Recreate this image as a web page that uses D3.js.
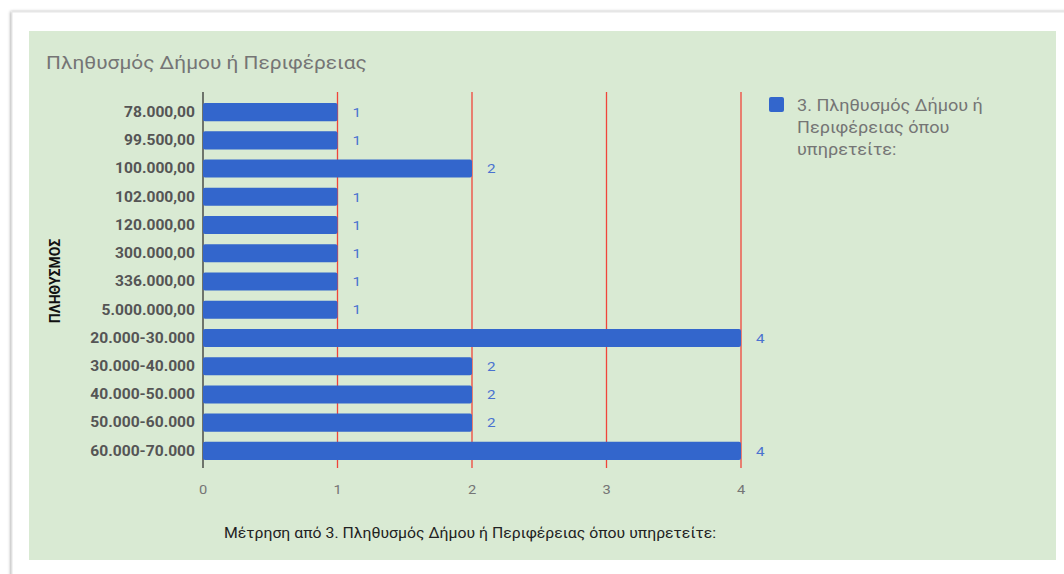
<!DOCTYPE html>
<html>
<head>
<meta charset="utf-8">
<script src="https://cdn.jsdelivr.net/npm/d3@7"></script>
<style>
html,body{margin:0;padding:0;background:#fff;}
svg{display:block;font-family:Roboto,"Noto Sans",Arial,sans-serif;}
</style>
</head>
<body>
<svg id="chart" width="1064" height="574"></svg>
<script>
const categories = ["78.000,00","99.500,00","100.000,00","102.000,00","120.000,00","300.000,00","336.000,00","5.000.000,00","20.000-30.000","30.000-40.000","40.000-50.000","50.000-60.000","60.000-70.000"];
const values = [1,1,2,1,1,1,1,1,4,2,2,2,4];
const xTicks = [0,1,2,3,4];
const chartTitle = "Πληθυσμός Δήμου ή Περιφέρειας";
const xTitle = "Μέτρηση από 3. Πληθυσμός Δήμου ή Περιφέρειας όπου υπηρετείτε:";
const yTitle = "ΠΛΗΘΥΣΜΟΣ";
const legendLines = ["3. Πληθυσμός Δήμου ή","Περιφέρειας όπου","υπηρετείτε:"];

const SX = 1.13; // horizontal text stretch seen in the reference
const svg = d3.select("#chart");
const defs = svg.append("defs");
const f = defs.append("filter").attr("id","sh").attr("x","-5%").attr("y","-5%").attr("width","110%").attr("height","110%");
f.append("feDropShadow").attr("dx",-1).attr("dy",0).attr("stdDeviation",1.5).attr("flood-color","#000").attr("flood-opacity",0.35);

function label(parent, px, py, txt){
  return parent.append("text").attr("transform",`translate(${px},${py}) scale(${SX},1)`).text(txt);
}

// card
svg.append("rect").attr("x",12).attr("y",12).attr("width",1070).attr("height",600)
  .attr("fill","#fff").attr("stroke","#e6e6e6").attr("filter","url(#sh)");
// panel
svg.append("rect").attr("x",29).attr("y",31).attr("width",1027).attr("height",529).attr("fill","#d9ead3");

label(svg,46,69,chartTitle).attr("font-size",18.5).attr("fill","#757575");

const x = d3.scaleLinear().domain([0,4]).range([203,741]);
const y = d3.scaleBand().domain(categories).range([98,465]).paddingInner(0.36).paddingOuter(0.18);

const g = svg.append("g");
// gridlines
g.selectAll("line.grid").data(xTicks.filter(d=>d>0)).join("line")
  .attr("x1",d=>x(d)).attr("x2",d=>x(d)).attr("y1",92).attr("y2",468)
  .attr("stroke","#f0443a").attr("stroke-width",1.3);
// baseline
g.append("line").attr("x1",x(0)).attr("x2",x(0)).attr("y1",92).attr("y2",468).attr("stroke","#333").attr("stroke-width",1.3);

// bars
g.selectAll("rect.bar").data(values).join("rect")
  .attr("x",x(0)).attr("y",(d,i)=>y(categories[i]))
  .attr("width",d=>x(d)-x(0)).attr("height",y.bandwidth())
  .attr("rx",2).attr("fill","#3366cc");

// value labels
values.forEach((d,i)=>{
  label(g, x(d)+15, y(categories[i])+y.bandwidth()/2, d)
    .attr("dy","0.35em").attr("font-size",13.5).attr("fill","#4a72d0");
});

// y labels
categories.forEach(c=>{
  label(g, 195, y(c)+y.bandwidth()/2, c)
    .attr("dy","0.35em").attr("text-anchor","end").attr("font-size",13.8)
    .attr("font-weight","bold").attr("fill","#555");
});

// x ticks
const xAxis = d3.axisBottom(x).tickValues(xTicks).tickFormat(d3.format("d")).tickSize(0).tickPadding(0);
const ax = svg.append("g").attr("transform","translate(0,489)").call(xAxis);
ax.select(".domain").remove();
ax.selectAll("text").attr("font-size",13).attr("fill","#757575").attr("font-family","Roboto,sans-serif")
  .attr("dy","0.35em").attr("y",0).attr("transform",`scale(${SX},1)`).attr("x",0);
ax.selectAll(".tick").attr("transform",d=>`translate(${x(d)},0)`);

// x title
label(svg,470,533,xTitle).attr("dy","0.35em").attr("text-anchor","middle").attr("font-size",14).attr("fill","#222");

// y title
svg.append("text").attr("transform","translate(55,281) rotate(-90)").attr("dy","0.35em").attr("text-anchor","middle")
  .attr("font-size",14).attr("font-weight","bold").attr("fill","#111").text(yTitle);

// legend
svg.append("rect").attr("x",769).attr("y",97).attr("width",15).attr("height",15).attr("rx",2).attr("fill","#3366cc");
const lg = svg.append("g");
legendLines.forEach((t,i)=>{
  label(lg,797,105+i*22,t).attr("dy","0.35em").attr("font-size",16).attr("fill","#757575");
});
</script>
</body>
</html>
